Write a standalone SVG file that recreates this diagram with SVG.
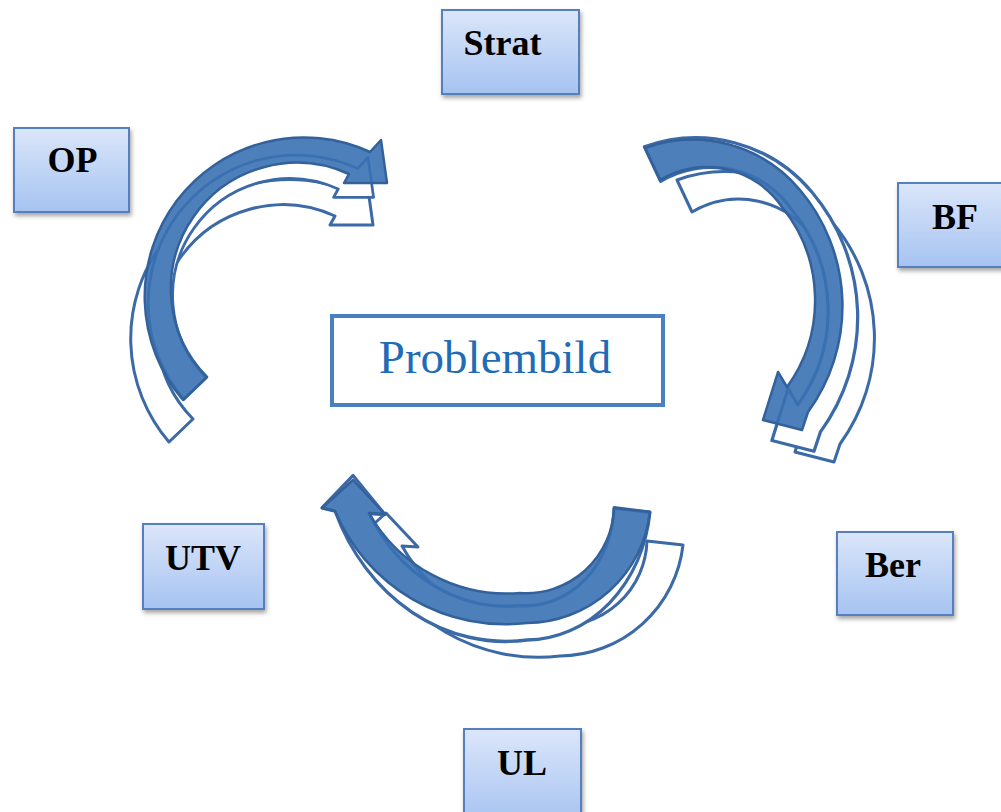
<svg xmlns="http://www.w3.org/2000/svg" xmlns:xlink="http://www.w3.org/1999/xlink" width="1001" height="812" viewBox="0 0 1001 812">
<defs>
<linearGradient id="boxg" x1="0" y1="0" x2="0" y2="1">
<stop offset="0" stop-color="#dbe6fa"/>
<stop offset="1" stop-color="#a6c3f1"/>
</linearGradient>
<filter id="sh" x="-20%" y="-20%" width="140%" height="150%">
<feDropShadow dx="1.5" dy="3" stdDeviation="2" flood-color="#000" flood-opacity="0.35"/>
</filter>
<path id="a1" d="M 183 400 A 159 159 0 0 1 370 152 L 381 140 L 387 183 L 344 183 L 349 174 A 126 126 0 0 0 207 377 Z"/>
<path id="a2" d="M 645 148 A 140 140 0 0 1 800 190 A 180 180 0 0 1 808 412 L 802 430 L 763 420 L 778 372 L 787 387 A 148 148 0 0 0 782 207 A 91 91 0 0 0 660 180 Z"/>
<path id="a3" d="M 650 512 A 125 125 0 0 1 527 623 A 185 185 0 0 1 335 511 L 322 508 L 353 480 L 385 514 L 369 513 A 158 158 0 0 0 520 593 A 88 88 0 0 0 614 508 Z"/>
</defs>
<style>
.box{fill:url(#boxg);stroke:#5580bd;stroke-width:2}
.lbl{font-family:"Liberation Serif","Times New Roman",serif;font-weight:bold;font-size:36px;fill:#000;text-anchor:middle}
.wa{fill:#fff;stroke:#3b6aa6;stroke-width:3;stroke-linejoin:round}
.fa{fill:#3a71b2;fill-opacity:0.9;stroke:#32619c;stroke-width:2.5;stroke-linejoin:round}
</style>
<rect x="0" y="0" width="1001" height="812" fill="#fff"/>
<g id="connectors">
<g id="cycle-top-left">
<use xlink:href="#a1" href="#a1" class="wa" transform="translate(-14,42)"/>
<use xlink:href="#a1" href="#a1" class="wa" transform="matrix(0.93,0,0,0.93,13.65,27.16)"/>
<use xlink:href="#a1" href="#a1" class="fa"/>
</g>
<g id="cycle-right">
<use xlink:href="#a2" href="#a2" class="wa" transform="translate(32,32)"/>
<use xlink:href="#a2" href="#a2" class="wa" transform="matrix(1.08,0,0,1.08,-52.16,-13.12)"/>
<use xlink:href="#a2" href="#a2" class="fa"/>
</g>
<g id="cycle-bottom">
<use xlink:href="#a3" href="#a3" class="wa" transform="translate(33,33)"/>
<use xlink:href="#a3" href="#a3" class="wa" transform="matrix(1,0,0,1.15,0,-76.5)"/>
<use xlink:href="#a3" href="#a3" class="fa"/>
</g>
</g>
<g id="node-problembild">
<rect x="332" y="316" width="331" height="89" fill="#fff" stroke="#4a7fc1" stroke-width="4"/>
<text x="495" y="373" font-family="'Liberation Serif','Times New Roman',serif" font-size="47" fill="#1f6cb6" text-anchor="middle">Problembild</text>
</g>
<g id="node-strat">
<rect class="box" x="442" y="10" width="137" height="84" filter="url(#sh)"/>
<text class="lbl" x="502.5" y="55">Strat</text>
</g>
<g id="node-op">
<rect class="box" x="14" y="128" width="115" height="84" filter="url(#sh)"/>
<text class="lbl" x="72.5" y="172">OP</text>
</g>
<g id="node-bf">
<rect class="box" x="898" y="183" width="112" height="84" filter="url(#sh)"/>
<text class="lbl" x="955" y="229">BF</text>
</g>
<g id="node-ber">
<rect class="box" x="837" y="532" width="116" height="83" filter="url(#sh)"/>
<text class="lbl" x="893" y="577">Ber</text>
</g>
<g id="node-utv">
<rect class="box" x="143" y="524" width="121" height="85" filter="url(#sh)"/>
<text class="lbl" x="203" y="570">UTV</text>
</g>
<g id="node-ul">
<rect class="box" x="464" y="729" width="117" height="95" filter="url(#sh)"/>
<text class="lbl" x="522" y="775">UL</text>
</g>
</svg>
